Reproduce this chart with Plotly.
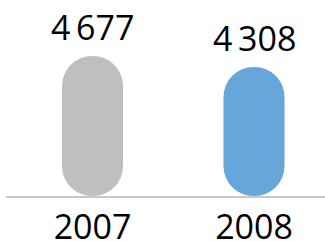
import plotly.graph_objects as go

categories = ["2007", "2008"]
values = [4677, 4308]
labels = ["4\u2009677", "4\u2009308"]
colors = ["#bfbfbf", "#66a6da"]

xs = list(range(len(categories)))
bases = [0 for _ in values]

fig = go.Figure()
fig.add_trace(go.Bar(x=xs, y=values, base=bases, width=0.378,
                     marker=dict(color=colors, line=dict(width=0), cornerradius="50%"),
                     hoverinfo="skip", showlegend=False))

for x, v, t in zip(xs, values, labels):
    fig.add_annotation(x=x, y=v, text=t, showarrow=False, yanchor="bottom",
                       yshift=4, font=dict(size=34, color="#000000", family="Open Sans"))

fig.update_layout(
    width=325, height=241,
    margin=dict(l=6, r=0, t=0, b=45),
    barmode="overlay",
    plot_bgcolor="white", paper_bgcolor="white",
    xaxis=dict(range=[-0.5356, 1.4396], tickvals=xs, ticktext=categories,
               showgrid=False, zeroline=False, showline=True, linecolor="#c8c8c8",
               linewidth=2, ticks="", automargin=False,
               tickfont=dict(size=34, color="#000000", family="Open Sans")),
    yaxis=dict(range=[0, 6548], visible=False, showgrid=False, zeroline=False,
               automargin=False),
    font=dict(family="Open Sans"),
)

fig.write_html("out.html", config={"displayModeBar": False},
               post_script="document.body.style.margin='0';")
